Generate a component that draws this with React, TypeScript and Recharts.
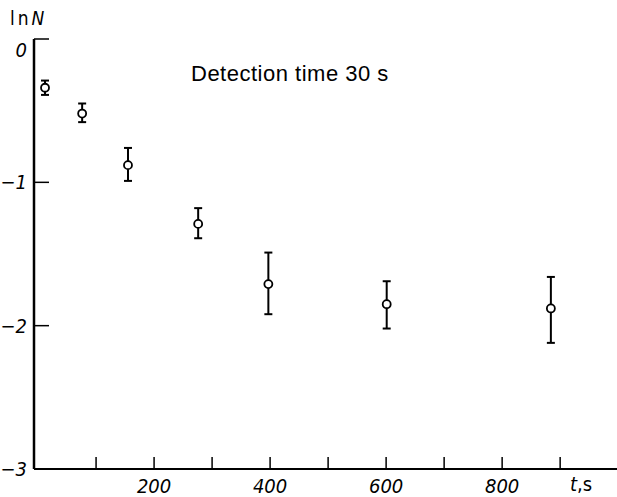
import React from "react";
import { ScatterChart, Scatter, XAxis, YAxis, ErrorBar } from "recharts";

const times = [12, 76, 155, 276, 397, 601, 884];
const lnN = [-0.34, -0.52, -0.88, -1.29, -1.71, -1.85, -1.88];
const upper = [-0.29, -0.45, -0.76, -1.18, -1.49, -1.69, -1.66];
const lower = [-0.39, -0.58, -0.99, -1.39, -1.92, -2.02, -2.12];

const xTicks = [100, 200, 300, 400, 500, 600, 700, 800, 900];
const xLabels = [200, 400, 600, 800];
const yTicks = [0, -1, -2, -3];

const data = times.map((t, i) => ({
  t,
  v: lnN[i],
  err: [lnN[i] - lower[i], upper[i] - lnN[i]],
}));

const labelFont = {
  fontFamily: "DejaVu Sans",
  fontStyle: "italic",
  fontStretch: "condensed",
  fontSize: 20,
};

function XTick({ x, y, payload }: any) {
  const v = payload.value;
  return (
    <g>
      <line x1={x} x2={x} y1={y} y2={y - 12} stroke="#000" strokeWidth={1.5} />
      {xLabels.includes(v) && (
        <text x={x} y={y + 24} textAnchor="middle" fill="#000" style={labelFont}>
          {v}
        </text>
      )}
    </g>
  );
}

function YTick({ x, y, payload }: any) {
  const v = payload.value;
  return (
    <g>
      <line x1={x} x2={x + 15} y1={y} y2={y} stroke="#000" strokeWidth={1.5} />
      <text x={x - 7} y={y + (v === 0 ? 18 : 7)} textAnchor="end" fill="#000" style={labelFont}>
        {v === 0 ? "0" : `\u2212${Math.abs(v)}`}
      </text>
    </g>
  );
}

function Dot({ cx, cy }: any) {
  return <circle cx={cx} cy={cy} r={4} fill="#fff" stroke="#000" strokeWidth={1.8} />;
}

export default function App() {
  return (
    <div style={{ position: "absolute", left: 0, top: 0, width: 617, height: 497, background: "#fff" }}>
      <ScatterChart width={617} height={497} margin={{ top: 39, right: 0, bottom: 27, left: 33 }}>
        <XAxis
          type="number"
          dataKey="t"
          domain={[-7, 998]}
          ticks={xTicks}
          height={1}
          tickSize={0}
          tickMargin={0}
          tickLine={false}
          axisLine={{ stroke: "#000", strokeWidth: 2 }}
          tick={<XTick />}
          interval={0}
        />
        <YAxis
          type="number"
          dataKey="v"
          domain={[-3, 0]}
          ticks={yTicks}
          width={1}
          tickSize={0}
          tickMargin={0}
          tickLine={false}
          axisLine={{ stroke: "#000", strokeWidth: 2.5 }}
          tick={<YTick />}
          interval={0}
        />
        <Scatter data={data} shape={<Dot />} isAnimationActive={false}>
          <ErrorBar dataKey="err" direction="y" width={4} stroke="#000" strokeWidth={2} />
        </Scatter>
      </ScatterChart>
      <div
        style={{
          position: "absolute",
          left: 10,
          top: 6,
          fontFamily: "DejaVu Sans",
          fontStretch: "condensed",
          fontSize: 19,
          letterSpacing: 3,
          lineHeight: "24px",
        }}
      >
        ln<i>N</i>
      </div>
      <div
        style={{
          position: "absolute",
          left: 570,
          top: 472,
          fontFamily: "DejaVu Sans",
          fontStretch: "condensed",
          fontSize: 20,
          lineHeight: "24px",
        }}
      >
        <i>t</i>,s
      </div>
      <div
        style={{
          position: "absolute",
          left: 191,
          top: 62,
          fontFamily: "Liberation Sans",
          fontSize: 22,
          letterSpacing: 0.5,
          lineHeight: "24px",
          whiteSpace: "nowrap",
        }}
      >
        Detection time 30 s
      </div>
    </div>
  );
}
